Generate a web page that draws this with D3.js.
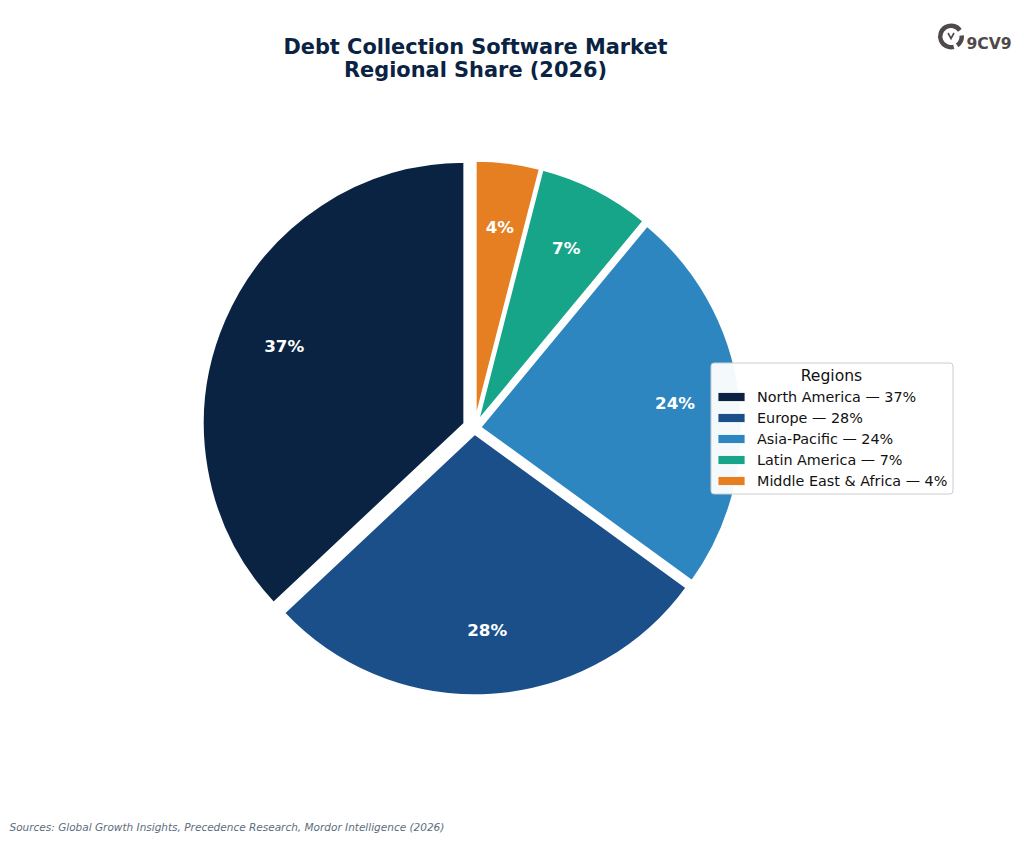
<!DOCTYPE html>
<html>
<head>
<meta charset="utf-8">
<script src="https://cdn.jsdelivr.net/npm/d3@7"></script>
<style>
  html, body { margin: 0; padding: 0; background: #fff; }
  svg { display: block; }
  text { font-family: "DejaVu Sans", sans-serif; }
</style>
</head>
<body>
<script>
const regions = ["North America", "Europe", "Asia-Pacific", "Latin America", "Middle East & Africa"];
const shares = [37, 28, 24, 7, 4];
const explode = [0.04, 0.02, 0.02, 0.02, 0.02];
const colors = ["#0a2342", "#1a4f8a", "#2e86c1", "#17a589", "#e67e22"];
const titleLines = ["Debt Collection Software Market", "Regional Share (2026)"];
const sourceNote = "Sources: Global Growth Insights, Precedence Research, Mordor Intelligence (2026)";

const width = 1024, height = 842;
const cx = 474.5, cy = 428, radius = 262.5;

const svg = d3.select("body").append("svg")
    .attr("width", width)
    .attr("height", height);

// title
svg.append("g").selectAll("text")
    .data(titleLines)
  .enter().append("text")
    .attr("x", 475.5)
    .attr("y", (d, i) => 53.5 + i * 23)
    .attr("text-anchor", "middle")
    .attr("font-size", 20.9)
    .attr("font-weight", "bold")
    .attr("fill", "#0a2342")
    .text(d => d);

// counter-clockwise from 12 o'clock, like the original
const pie = d3.pie().sort(null).startAngle(0).endAngle(-2 * Math.PI);
const arc = d3.arc().innerRadius(0).outerRadius(radius);
const arcs = pie(shares);

// d3 angles run from 12 o'clock, so sin is x and -cos is y
const shift = (d, dist) => {
  const mid = (d.startAngle + d.endAngle) / 2;
  return [Math.sin(mid) * dist, -Math.cos(mid) * dist];
};

const slices = svg.append("g")
    .attr("transform", `translate(${cx},${cy})`);

slices.selectAll("path")
    .data(arcs)
  .enter().append("path")
    .attr("d", arc)
    .attr("transform", (d, i) => `translate(${shift(d, explode[i] * radius)})`)
    .attr("fill", (d, i) => colors[i])
    .attr("stroke", "#fff")
    .attr("stroke-width", 3);

slices.selectAll("text")
    .data(arcs)
  .enter().append("text")
    .attr("transform", (d, i) => `translate(${shift(d, (0.75 + explode[i]) * radius)})`)
    .attr("text-anchor", "middle")
    .attr("dy", "0.36em")
    .attr("font-size", 16.7)
    .attr("font-weight", "bold")
    .attr("fill", "#fff")
    .text(d => d.data + "%");

// legend
const legend = svg.append("g");

legend.append("rect")
    .attr("x", 711)
    .attr("y", 363)
    .attr("width", 242)
    .attr("height", 131)
    .attr("rx", 3)
    .attr("fill", "#fff")
    .attr("fill-opacity", 0.95)
    .attr("stroke", "#ccc")
    .attr("stroke-width", 1);

legend.append("text")
    .attr("x", 831.5)
    .attr("y", 381)
    .attr("text-anchor", "middle")
    .attr("font-size", 15.6)
    .attr("fill", "#111")
    .text("Regions");

const rowY = d3.scalePoint()
    .domain(regions)
    .range([397, 481]);

const rows = legend.selectAll("g.row")
    .data(regions)
  .enter().append("g")
    .attr("class", "row")
    .attr("transform", d => `translate(0,${rowY(d)})`);

rows.append("rect")
    .attr("x", 718)
    .attr("y", -4.5)
    .attr("width", 27)
    .attr("height", 9)
    .attr("fill", (d, i) => colors[i])
    .attr("stroke", "#fff")
    .attr("stroke-width", 0.8);

rows.append("text")
    .attr("x", 757)
    .attr("y", 5)
    .attr("font-size", 14.35)
    .attr("fill", "#111")
    .text((d, i) => `${d} — ${shares[i]}%`);

// source note
svg.append("text")
    .attr("x", 9.5)
    .attr("y", 831)
    .attr("font-size", 10.5)
    .attr("font-style", "italic")
    .attr("fill", "#5d6d7e")
    .text(sourceNote);

// logo
const logo = svg.append("g").attr("transform", "translate(951,36.5)");
const logoColor = "#4f4a49";
const deg = Math.PI / 180;
const logoArc = d3.arc().innerRadius(8.5).outerRadius(13);

logo.append("path")
    .attr("d", logoArc({startAngle: 55 * deg, endAngle: -195 * deg}))
    .attr("fill", logoColor);

logo.append("path")
    .attr("d", logoArc({startAngle: 85 * deg, endAngle: 145 * deg}))
    .attr("fill", logoColor);

logo.append("path")
    .attr("d", "M-3,-3.5 L0,2 L3,-3.5")
    .attr("fill", "none")
    .attr("stroke", logoColor)
    .attr("stroke-width", 1.6);

logo.append("text")
    .attr("x", 15.5)
    .attr("y", 12.5)
    .attr("font-size", 15.6)
    .attr("font-weight", "bold")
    .attr("fill", logoColor)
    .text("9CV9");
</script>
</body>
</html>
